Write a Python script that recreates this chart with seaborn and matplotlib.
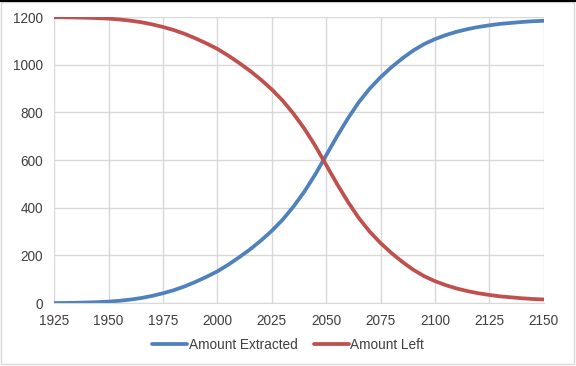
import pandas as pd
import matplotlib
matplotlib.use('Agg')
import matplotlib.pyplot as plt
import seaborn as sns
from matplotlib.patches import Rectangle
from matplotlib.lines import Line2D

# values, every 5 years
years = list(range(1925, 2151, 5))
extracted = [0, 0.5, 1.2, 2.3, 3.8, 6, 9.5, 14.5, 21, 30, 41, 54, 70, 89, 110, 133,
             161, 192, 225, 262, 303, 350, 405, 468, 540, 620, 700, 775, 843, 900,
             948, 990, 1027, 1060, 1087, 1108, 1125, 1139, 1150, 1159, 1166, 1172,
             1176, 1180, 1183, 1185]
left = [1200, 1199.5, 1198.8, 1197.7, 1196.2, 1194, 1190.5, 1185.5, 1179, 1170, 1159,
        1146, 1130, 1111, 1090, 1067, 1039, 1008, 975, 938, 897, 850, 795, 732, 660,
        580, 500, 425, 357, 300, 252, 210, 173, 140, 113, 92, 75, 61, 50, 41, 34, 28,
        24, 20, 17, 15]
series_names = ['Amount Extracted', 'Amount Left']
colors = ['#4F81BD', '#C0504D']

df = pd.DataFrame({'Year': years, series_names[0]: extracted, series_names[1]: left})
long_df = df.melt(id_vars='Year', var_name='Series', value_name='Amount')

sns.set_style('white')
plt.rcParams['font.family'] = ['Liberation Sans', 'DejaVu Sans']

fig = plt.figure(figsize=(5.76, 3.66), dpi=100)
ax = fig.add_axes([0.094, 0.172, 0.850, 0.781])

sns.lineplot(data=long_df, x='Year', y='Amount', hue='Series', hue_order=series_names,
             palette=colors, linewidth=2.7, ax=ax, legend=False)

ax.set_xlim(1925, 2150)
ax.set_ylim(0, 1200)
ax.set_xticks(range(1925, 2151, 25))
ax.set_yticks(range(0, 1201, 200))
ax.grid(True, color='#D9D9D9', linewidth=1)
ax.set_axisbelow(True)
for side in ['top', 'right', 'left']:
    ax.spines[side].set_visible(False)
ax.spines['bottom'].set_color('#D9D9D9')
ax.tick_params(axis='both', length=0, labelsize=9.8, colors='#404040')
ax.tick_params(axis='x', pad=8)
ax.tick_params(axis='y', pad=8)
ax.set_xlabel('')
ax.set_ylabel('')

handles = [Line2D([0], [0], color=c, linewidth=2.7) for c in colors]
fig.legend(handles, series_names, loc='center', bbox_to_anchor=(0.5, 0.058), ncol=2,
           frameon=False, fontsize=9.8, handlelength=2.6, handletextpad=0.1,
           columnspacing=1.2, labelcolor='#404040')

# chart area border
fig.patches.append(Rectangle((0.002, 0.005), 0.994, 0.99, transform=fig.transFigure,
                             fill=False, edgecolor='#D9D9D9', linewidth=1))
fig.add_artist(Line2D([0, 1], [0.998, 0.998], transform=fig.transFigure, color='black',
                      linewidth=1.5))

fig.savefig('out.png', dpi=100)
